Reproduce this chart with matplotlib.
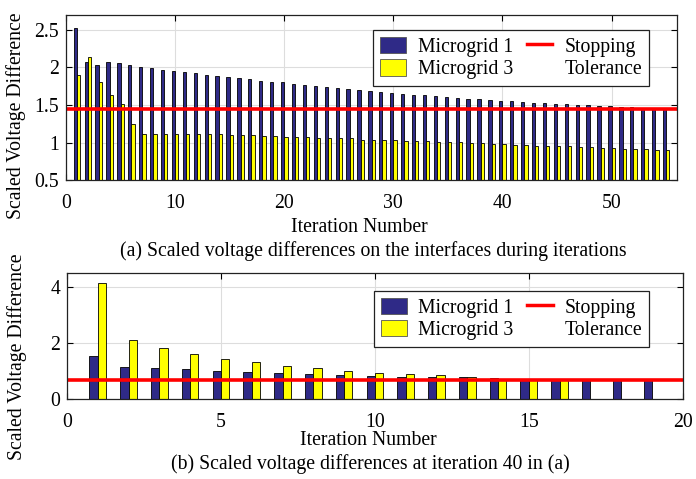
import numpy as np
import matplotlib
matplotlib.use('Agg')
import matplotlib.pyplot as plt
from matplotlib.patches import Patch
from matplotlib.lines import Line2D

plt.rcParams['font.family'] = ['Liberation Serif', 'DejaVu Serif']
plt.rcParams['font.size'] = 14.2

# (a) all iterations
iters_a = np.arange(1, 56)
mg1_a = [2.52, 2.075, 2.03, 2.067, 2.06, 2.03, 2.01, 1.99, 1.97, 1.95,
         1.94, 1.92, 1.90, 1.88, 1.87, 1.86, 1.84, 1.82, 1.81, 1.80,
         1.78, 1.76, 1.75, 1.74, 1.72, 1.71, 1.70, 1.69, 1.67, 1.664,
         1.651, 1.638, 1.629, 1.616, 1.607, 1.593, 1.584, 1.576, 1.567, 1.558,
         1.549, 1.54, 1.531, 1.522, 1.513, 1.509, 1.504, 1.496, 1.491, 1.487,
         1.478, 1.47, 1.465, 1.46, 1.455]
mg3_a = [1.897, 2.14, 1.80, 1.64, 1.51, 1.25, 1.11, 1.12, 1.11, 1.11,
         1.12, 1.115, 1.11, 1.11, 1.10, 1.10, 1.10, 1.085, 1.085, 1.08,
         1.07, 1.07, 1.06, 1.06, 1.055, 1.055, 1.04, 1.04, 1.036, 1.027,
         1.022, 1.022, 1.018, 1.013, 1.009, 1.004, 1.0, 0.996, 0.985, 0.977,
         0.973, 0.964, 0.96, 0.96, 0.951, 0.947, 0.942, 0.938, 0.933, 0.929,
         0.92, 0.916, 0.907, 0.902, 0.898]
tol_a = 1.45

# (b) at iteration 40
iters_b = np.arange(1, 20)
mg1_b = [1.53, 1.16, 1.12, 1.06, 1.02, 0.96, 0.94, 0.90, 0.87, 0.83,
         0.81, 0.79, 0.78, 0.74, 0.72, 0.71, 0.69, 0.68, 0.67]
mg3_b = [4.13, 2.12, 1.83, 1.62, 1.45, 1.31, 1.20, 1.10, 1.02, 0.95,
         0.89, 0.85, 0.78, 0.73, 0.70, 0.68, 0, 0, 0]
tol_b = 0.7

blue = '#2f2a87'
yellow = '#ffff00'
red = '#ff0000'

fig = plt.figure(figsize=(6.96, 4.79), dpi=100)
ax1 = fig.add_axes([0.0948, 0.6242, 0.878, 0.3445])
ax2 = fig.add_axes([0.0963, 0.1664, 0.8846, 0.2643])


def style(ax):
    ax.grid(True, color='#dddddd', linewidth=0.8)
    ax.set_axisbelow(True)
    ax.tick_params(direction='in', top=True, right=True, length=4, width=0.8)
    ax.tick_params(axis='x', pad=10)
    ax.tick_params(axis='y', pad=5)
    for s in ax.spines.values():
        s.set_linewidth(0.9)
        s.set_color('#222222')


def legend(ax, x, y):
    handles = [Patch(facecolor=blue, edgecolor='#555555', linewidth=0.6),
               Patch(facecolor=yellow, edgecolor='#555555', linewidth=0.6),
               Line2D([], [], color=red, linewidth=2.5),
               Line2D([], [], linestyle='none')]
    labels = ['Microgrid 1', 'Microgrid 3', 'Stopping', 'Tolerance']
    leg = ax.legend(handles, labels, ncol=2, loc='upper left', bbox_to_anchor=(x, y),
                    borderaxespad=0, fancybox=False, framealpha=1, edgecolor='#222222',
                    handlelength=1.3, handleheight=0.9, handletextpad=0.6,
                    columnspacing=0.7, labelspacing=0.12, borderpad=0.35)
    leg.get_frame().set_linewidth(0.9)


# top panel
w = 0.3
ax1.bar(iters_a - w / 2, mg1_a, w, color=blue, edgecolor='black', linewidth=0.6)
ax1.bar(iters_a + w / 2, mg3_a, w, color=yellow, edgecolor='black', linewidth=0.6)
ax1.axhline(tol_a, color=red, linewidth=2.6)
ax1.set_xlim(0, 56)
ax1.set_ylim(0.5, 2.7)
ax1.set_xticks([0, 10, 20, 30, 40, 50])
ax1.set_yticks([0.5, 1, 1.5, 2, 2.5])
ax1.set_yticklabels(['0.5', '1', '1.5', '2', '2.5'])
ax1.set_xlabel('Iteration Number')
ax1.set_ylabel('Scaled Voltage Difference')
ax1.xaxis.set_label_coords(0.48, -0.23)
ax1.yaxis.set_label_coords(-0.065, 0.39)
style(ax1)
legend(ax1, 0.503, 0.909)

# bottom panel
w = 0.27
ax2.bar(iters_b - w / 2, mg1_b, w, color=blue, edgecolor='black', linewidth=0.6)
ax2.bar(iters_b + w / 2, mg3_b, w, color=yellow, edgecolor='black', linewidth=0.6)
ax2.axhline(tol_b, color=red, linewidth=2.6)
ax2.set_xlim(0, 20)
ax2.set_ylim(0, 4.5)
ax2.set_xticks([0, 5, 10, 15, 20])
ax2.set_yticks([0, 2, 4])
ax2.set_xlabel('Iteration Number')
ax2.set_ylabel('Scaled Voltage Difference')
ax2.xaxis.set_label_coords(0.49, -0.25)
ax2.yaxis.set_label_coords(-0.065, 0.34)
style(ax2)
legend(ax2, 0.4986, 0.858)

fig.text(0.536, 0.476, '(a) Scaled voltage differences on the interfaces during iterations',
         ha='center', va='center')
fig.text(0.532, 0.031, '(b) Scaled voltage differences at iteration 40 in (a)',
         ha='center', va='center')

fig.savefig('out.png', dpi=100)
